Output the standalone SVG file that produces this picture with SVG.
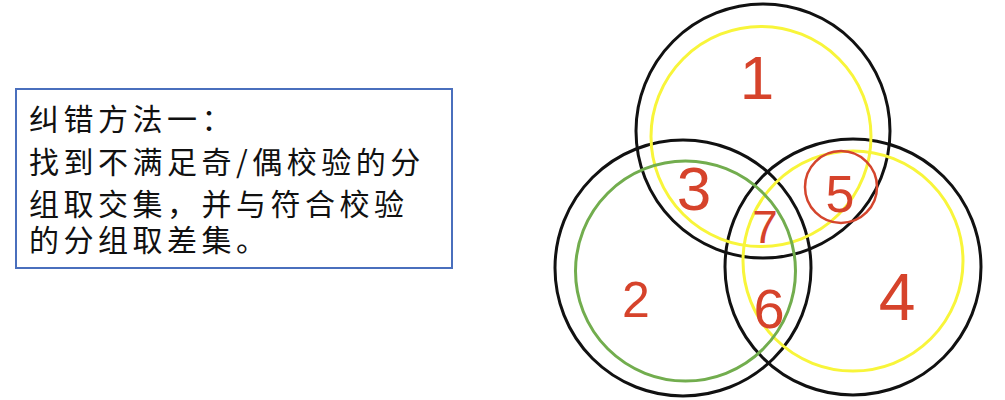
<svg xmlns="http://www.w3.org/2000/svg" width="1005" height="400" viewBox="0 0 1005 400">
<style>
.box{fill:#fff;stroke:#4a6fbd;stroke-width:2}
.t{font-family:"Noto Sans CJK SC","Noto Sans",sans-serif;font-size:30px;letter-spacing:4.5px;fill:#111}
.blk{fill:none;stroke:#111;stroke-width:3}
.yel{fill:none;stroke:#f8f53a;stroke-width:3}
.grn{fill:none;stroke:#72ad4e;stroke-width:3}
.red{fill:none;stroke:#d4452d;stroke-width:2.5}
.num{font-family:"Liberation Sans",sans-serif;fill:#d6432b;text-anchor:middle}
</style>
<rect width="1005" height="400" fill="#fff"/>
<g id="note">
<rect class="box" x="16" y="89" width="436" height="179"/>
<text class="t" x="29" y="130">纠错方法一：</text>
<text class="t" x="29" y="173">找到不满足奇/偶校验的分</text>
<text class="t" x="29" y="215">组取交集，并与符合校验</text>
<text class="t" x="29" y="251">的分组取差集。</text>
</g>
<g id="venn">
<circle class="blk" cx="763" cy="131" r="127"/>
<circle class="blk" cx="683" cy="268" r="128"/>
<circle class="blk" cx="853" cy="267" r="128"/>
<circle class="yel" cx="761" cy="136.5" r="110"/>
<circle class="yel" cx="853" cy="261" r="110"/>
<circle class="grn" cx="685.5" cy="271" r="110"/>
<circle class="red" cx="841" cy="187" r="36"/>
</g>
<g id="labels">
<text class="num" x="757" y="99" font-size="62">1</text>
<text class="num" x="694" y="210" font-size="62">3</text>
<text class="num" x="765" y="243" font-size="46">7</text>
<text class="num" x="840" y="212" font-size="52">5</text>
<text class="num" x="636" y="317" font-size="50">2</text>
<text class="num" x="769" y="328" font-size="56">6</text>
<text class="num" x="897" y="320" font-size="66">4</text>
</g>
</svg>
